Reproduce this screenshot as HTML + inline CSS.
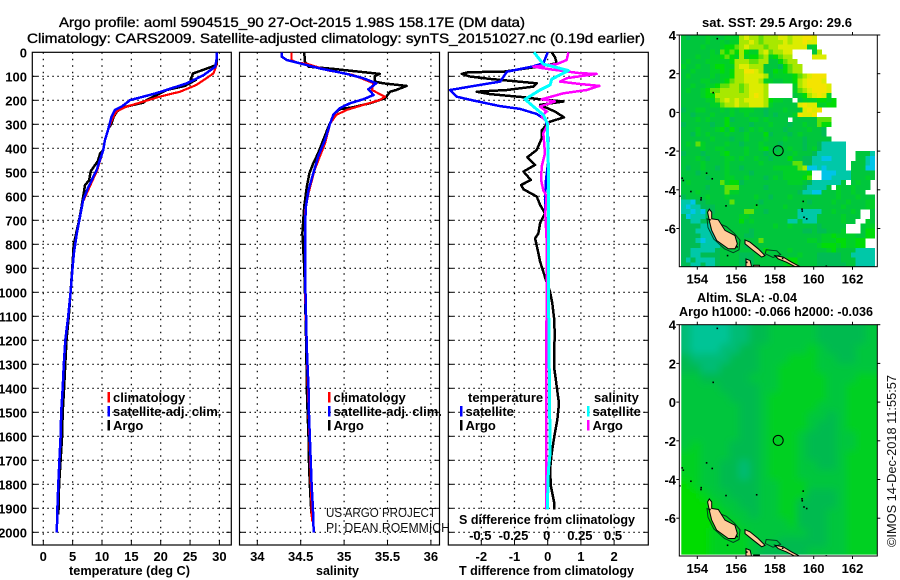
<!DOCTYPE html>
<html lang="en">
<head>
<meta charset="utf-8">
<title>Argo profile</title>
<style>
html,body{margin:0;padding:0;background:#fff;}
svg{display:block;}
text{font-family:"Liberation Sans",sans-serif;fill:#000;}
.b{font-weight:bold;font-size:13px;}
.t{font-size:14px;stroke:#000;stroke-width:.35px;}
.h{font-size:13px;fill:#111;}
</style>
</head>
<body>
<svg id="fig" xmlns="http://www.w3.org/2000/svg" width="900" height="580" viewBox="0 0 900 580">
<rect width="900" height="580" fill="#fff"/>
<text class="t" x="59" y="27" textLength="466" lengthAdjust="spacingAndGlyphs">Argo profile: aoml 5904515_90 27-Oct-2015 1.98S 158.17E (DM data)</text>
<text class="t" x="27" y="43" textLength="618" lengthAdjust="spacingAndGlyphs">Climatology: CARS2009. Satellite-adjusted climatology: synTS_20151027.nc (0.19d earlier)</text>
<text class="b" x="69" y="575" textLength="121" lengthAdjust="spacingAndGlyphs">temperature (deg C)</text>
<text class="b" x="316" y="575" textLength="43" lengthAdjust="spacingAndGlyphs">salinity</text>
<text class="b" x="459" y="575" textLength="175" lengthAdjust="spacingAndGlyphs">T difference from climatology</text>
<text class="b" x="459" y="524" textLength="176" lengthAdjust="spacingAndGlyphs">S difference from climatology</text>
<text class="h" x="326" y="517" textLength="110" lengthAdjust="spacingAndGlyphs">US ARGO PROJECT</text>
<text class="h" x="326" y="532" textLength="124" lengthAdjust="spacingAndGlyphs">PI: DEAN ROEMMICH</text>
<text class="b" x="702" y="27" textLength="150" lengthAdjust="spacingAndGlyphs">sat. SST: 29.5 Argo: 29.6</text>
<text class="b" x="697" y="302" textLength="100" lengthAdjust="spacingAndGlyphs">Altim. SLA: -0.04</text>
<text class="b" x="679" y="316" textLength="194" lengthAdjust="spacingAndGlyphs">Argo h1000: -0.066 h2000: -0.036</text>
<text class="h" transform="translate(896 547) rotate(-90)" x="0" y="0" textLength="172" lengthAdjust="spacingAndGlyphs">©IMOS 14-Dec-2018 11:55:57</text>
</svg>
<script>
// ---------- chart data ----------
const depthTicks = [0,100,200,300,400,500,600,700,800,900,1000,1100,1200,1300,1400,1500,1600,1700,1800,1900,2000];
const tempTicks = [0,5,10,15,20,25,30];
const salTicks = [34,34.5,35,35.5,36];
const salTickLabels = ['34','34.5','35','35.5','36'];
const tDiffTicks = [-2,-1,0,1,2];
const sDiffTicks = [-0.5,-0.25,0,0.25,0.5];
const sDiffTickLabels = ['-0.5','-0.25','0','0.25','0.5'];

const tempBlueDepth = [0,30,60,95,130,147,170,185,199,225,240,270,317,367,408,490,560,615,685,755,840,920,1000,1100,1200,1300,1400,1500,1600,1700,1800,1900,2000];
const tempBlue = [29.5,29.5,29.3,27.3,24.4,22.2,19.3,17,14.8,13.4,12.2,11.6,11.1,10.5,10.2,9.1,7.7,6.8,6.25,5.7,5.2,4.9,4.65,4.25,3.75,3.5,3.3,3.05,2.95,2.75,2.55,2.4,2.3];
const tempRedDepth = [0,53,88,136,164,185,206,227,248,275,317,367,408,490,560,615];
const tempRed = [29.5,29.5,29,26.1,23.3,19.8,17,14.1,12.4,11.8,11.1,10.5,10.2,9.2,7.9,6.9];
const tempArgoDepth = [0,53,78,88,115,115,140,157,178,199,210,229,248,269,297,317,367,408,420,453,495,533,554,600,644,700,742,800,870,1000,1100,1200,1300,1400,1500,1600,1700,1800,1900,1925];
const tempArgo = [29.5,29.5,26.7,25.5,25.1,26,24.1,21,19.3,17.6,17,13.6,12.5,12,11.6,11.1,10.5,10.2,9.7,9.3,8.1,7.8,7.1,6.8,6.5,6.1,5.7,5.2,5,4.65,4.35,3.95,3.75,3.55,3.3,3.2,2.95,2.7,2.6,2.55];

const salBlueDepth = [0,18,32,46,67,90,108,129,154,178,196,212,233,261,296,365,435,504,574,643,726,893,1004,1233,1400,1500,1600,1700,1800,1900,2000];
const salBlue = [34.28,34.28,34.34,34.49,34.72,35.03,35.22,35.37,35.28,35.34,35.22,35.07,34.95,34.875,34.84,34.78,34.7,34.645,34.59,34.56,34.55,34.55,34.555,34.57,34.59,34.595,34.605,34.615,34.625,34.64,34.65];
const salRedDepth = [0,32,43,48,76,94,129,157,185,199,215,240,261,296,379,490,587,660,1000,1955];
const salRed = [34.395,34.395,34.45,34.57,34.82,35.1,35.34,35.32,35.47,35.41,35.26,35.03,34.91,34.84,34.78,34.66,34.59,34.55,34.55,34.63];
const salArgoDepth = [0,39,60,69,78,90,99,122,129,140,157,164,192,212,229,237,254,282,310,365,421,462,504,560,643,754,893,1004,1233,1400,1500,1600,1700,1800,1900,1925];
const salArgo = [34.54,34.55,34.59,34.875,35.1,35.41,35.355,35.355,35.45,35.72,35.6,35.53,35.47,35.3,35.1,34.95,34.89,34.855,34.82,34.76,34.7,34.645,34.6,34.57,34.54,34.52,34.54,34.55,34.565,34.57,34.58,34.59,34.595,34.605,34.62,34.625];

const dtBlueDepth = [0,46,60,81,122,136,157,185,201,224,236,257,282,365,449,532,615,712,800,921,1100];
const dtBlue = [0,-0.13,-0.48,-1.23,-1.43,-2.04,-2.94,-2.74,-2.24,-1.44,-0.83,-0.33,-0.05,0.02,0.02,-0.05,-0.08,-0.06,0,-0.02,-0.02];
const dtArgoDepth = [0,20,46,60,81,83,90,101,111,129,143,157,164,174,187,196,205,219,247,271,289,324,358,407,437,469,497,532,553,571,601,636,671,712,754,775,837,872,907,949,998,1046,1116,1185,1255,1310,1359,1393,1463,1532,1601,1671,1740,1810,1879,1904];
const dtArgo = [0.12,0.22,0.27,-0.3,-1.33,-2.39,-2.59,-2.34,-1.74,-0.33,-0.43,-1.23,-2.14,-1.74,-0.73,-0.23,0.47,-0.23,0.22,0.49,0.07,-0.18,-0.18,-0.33,-0.61,-0.38,-0.73,-0.51,-0.8,-0.73,-0.33,-0.23,-0.08,-0.23,-0.28,-0.38,-0.28,-0.23,-0.15,-0.05,0.07,0.14,0.2,0.21,0.19,0.19,0.24,0.27,0.34,0.29,0.2,0.12,0.07,0.1,0.2,0.2];
const dsArgoDepth = [0,32,49,60,71,87,90,108,122,132,140,157,171,196,205,226,247,268,296,337,421,476,532,574,601,671,782,949,1904];
const dsArgo = [0.156,0.143,0.068,-0.108,0.018,0.244,0.369,0.143,0.093,0.244,0.389,0.294,0.118,-0.045,0.055,-0.058,-0.008,-0.045,0.005,-0.033,-0.02,-0.045,-0.05,-0.033,-0.008,-0.018,-0.008,-0.008,-0.012];
const dsSatDepth = [0,32,49,76,112,136,157,196,226,261,296,500,1000,1671,1740,1904];
const dsSat = [-0.103,-0.058,-0.033,0.156,0.03,0.018,-0.058,-0.171,-0.108,-0.033,-0.003,0.006,0.006,0.018,0.005,-0.003];

const mapLonTicks = [154,156,158,160,162];
const mapLatTicks = [4,2,0,-2,-4,-6];
const profileLon = 158.17;
const profileLat = -1.98;

// SST heat levels by row (north to south), '.' = missing; 0.25 degree cells
const sstLevelColors = {'1':'#00c4e8','2':'#00c8a8','3':'#00bc54','4':'#00c63c','5':'#00d028','6':'#00dc08','7':'#60e008','8':'#a8e800','9':'#dcec00','A':'#f4e400'};
const sstRows = [
"4344454445558988788899899AA9",
"4444454454558898788889899A99",
"4444544456678988878899999945",
"44444454767686558978899....48",
"44454455676585667856788....999",
"454445555568887788446788",
"5445445665589988844436788",
"4454445565688AA9844656788",
"454444545568899998455556789AAA",
"4444554456788999855445568 9AAA9".replace(' ',''),
"445445567788789998.....589AAAA9",
"454456778888789998.....5789AAA9",
"444456688888889A98.....45689A95",
"44444557898989999865544.45556656",
"4444445578898899985444449A995566",
"34455444545455544344454449A9A",
"443444544454454443434445A99A",
"4445454446344455454444.44444777",
"3444443446444434445444344544766",
"444544456464345454444344445443",
"443545444544454446344434544443",
"4444445444344544454445444344444",
"4547544445443444544434444344322222",
"4444544554444544564344544345322222",
"3444344456444544434444454443222222..4442",
"4445434445545445443444644332211222..4421",
"444454444544444454444447733222"+"2222.44421",
"434454434544344444455555781121"+"2222.44411",
"444344444544443444444555556..1"+"1122244444",
"444443444554454443454555567..1"+"1222244454",
"454444447566344444444455543222"+"2224.4544.",
"444443444777444443444444432222"+"4.5445444.",
"444544444755444444444444322114"+"44544544..",
"344445444544444544344454444444"+"4454445444",
"221334444474444434444444443444"+"4544544455",
"212233344444444544444544444444"+"4445444455",
"221213344444477443444444222224"+"4544454..4",
"312223444444554444444444222244"+"4445444..4",
"332233434444645444444422422244"+"444544..54",
"333322554444444444454454444434"+"4444...455",
"333222224444443444444444433433"+"4445...466",
"333322224444433444444444444445"+"5655554466",
"333212224454444474444444445545"+"55665566..",
"333322223444434444444444444456"+"66565566..",
"332222234444444446444454444444"+"5644442222",
"332233334444333444444444544433"+"3334422222",
"323222234444333444444566444433"+"3334442222",
"332232234444333444444566444433"+"3333442222"
];

// SLA heat levels by row (north to south); 0.5 degree cells
const slaLevelColors = {'1':'#00c496','2':'#00bc74','3':'#00ba50','4':'#00c63c','5':'#00d020','6':'#00dc04'};
const slaRows = [
"21111223344444333334",
"21111223344444333334",
"21112233444445433344",
"32222333444555443344",
"33223333445555444444",
"44333334445555544455",
"44443333445555544555",
"44444333455555544555",
"44444433455555444555",
"44444433455554434555",
"44444433455554334555",
"44444433455543334455",
"45444333455543334455",
"55444333455543334555",
"55443323455544334555",
"55443323455544444555",
"65443333445554444555",
"66544333445553334555",
"66654433445533334555",
"66665443445533344555",
"66665544444533344555",
"66655554444443344555",
"66655554443333344555",
"66655554333334444555"
];

// coastlines as [lon, lat]
const coastBougainville = [[154.62,-5.0],[154.74,-5.16],[154.74,-5.5],[155.08,-5.55],[155.43,-6.1],[155.94,-6.36],[156.06,-6.79],[155.94,-7.05],[155.6,-7.05],[155.0,-6.62],[154.74,-6.1],[154.62,-5.59],[154.53,-5.16]];
const coastChoiseul = [[156.46,-6.59],[156.72,-6.71],[157.14,-7.05],[157.49,-7.4],[157.32,-7.48],[156.89,-7.14],[156.46,-6.79]];
const coastIsabel = [[158.0,-7.4],[158.43,-7.48],[158.86,-7.74],[159.29,-7.97],[159.03,-7.97],[158.6,-7.74],[158.17,-7.57]];
const coastGeorgia = [[156.51,-7.57],[156.72,-7.66],[156.8,-7.97],[156.51,-7.97]];
const coastRanongga = [[156.9,-7.9],[157.2,-7.9],[157.2,-8.0],[156.9,-8.0]];
const shelfBougainville = [[154.5,-5.5],[154.55,-5.95],[154.85,-6.55],[155.4,-7.05],[155.85,-7.25],[156.15,-7.1],[156.2,-6.6],[155.9,-6.25],[155.5,-5.9]];
const shelfIsabel = [[157.5,-7.3],[157.55,-7.1],[158.1,-7.15],[158.3,-7.35],[157.9,-7.5]];
const smallIslands = [[155.03,3.81],[154.82,1.02],[154.48,-3.14],[154.77,-3.43],[153.28,-3.52],[153.22,-3.4],[153.67,-4.09],[154.19,-4.52],[154.2,-4.42],[155.48,-4.83],[157.06,-4.79],[159.46,-4.6],[159.41,-5.1],[159.4,-5.0],[159.64,-5.5],[159.5,-5.42],[155.56,-7.4],[153.1,-4.33],[154.65,-5.55],[156.05,-6.95],[158.4,-7.55],[156.55,-7.75],[160.65,-7.95]];

// ---------- axis functions ----------
const svgNS = 'http://www.w3.org/2000/svg';
const fig = document.getElementById('fig');
const yD = d => 52.3 + d * 0.24;
const xT = t => 43.3 + t * 5.87;
const xS = s => 257.3 + (s - 34) * 86.8;
const xDT = t => 547.7 + t * 33.2;
const xDS = s => 547.7 + s * 132.8;

function mk(tag, attrs, name, parent, interact) {
  const el = document.createElementNS(svgNS, tag);
  for (const k in attrs) el.setAttribute(k, attrs[k]);
  
  
  (parent || fig).appendChild(el);
  return el;
}
function txt(s, x, y, anchor, name, parent, cls) {
  const el = mk('text', {x: x, y: y, 'text-anchor': anchor, class: cls || 'b'}, name, parent);
  el.textContent = s;
  return el;
}
function series(xs, ds, xf, color, width, name, parent) {
  const pts = xs.map((v, i) => xf(v).toFixed(1) + ',' + yD(ds[i]).toFixed(1)).join(' ');
  return mk('polyline', {points: pts, fill: 'none', stroke: color, 'stroke-width': width, 'stroke-linejoin': 'round', 'shape-rendering': 'crispEdges'}, name, parent);
}
function panel(id, x0, x1, gridXs, xf) {
  const g = mk('g', {}, id + '-panel');
  const yTop = 52.3, yBot = 545;
  gridXs.forEach(v => {
    mk('line', {x1: xf(v), x2: xf(v), y1: yTop, y2: yBot, stroke: '#000', 'stroke-dasharray': '1.5 5', 'stroke-width': 1.2}, id + '-vertical-grid-line', g);
  });
  depthTicks.forEach(d => {
    if (d === 0) return;
    mk('line', {x1: x0, x2: x1, y1: yD(d), y2: yD(d), stroke: '#000', 'stroke-dasharray': '1.5 3.5', 'stroke-width': 1.2}, id + '-horizontal-grid-line', g);
    mk('line', {x1: x0, x2: x0 + 5, y1: yD(d), y2: yD(d), stroke: '#000', 'stroke-width': 1}, id + '-left-tick', g);
    mk('line', {x1: x1 - 5, x2: x1, y1: yD(d), y2: yD(d), stroke: '#000', 'stroke-width': 1}, id + '-right-tick', g);
  });
  gridXs.forEach(v => {
    mk('line', {x1: xf(v), x2: xf(v), y1: yBot - 5, y2: yBot, stroke: '#000', 'stroke-width': 1}, id + '-bottom-tick', g);
  });
  mk('rect', {x: x0, y: yTop, width: x1 - x0, height: yBot - yTop, fill: 'none', stroke: '#000', 'stroke-width': 1.2}, id + '-frame', g);
  return g;
}

// ---------- profile panels ----------
const gTemp = panel('temperature', 32.3, 231.3, tempTicks, xT);
const gSal = panel('salinity', 239.5, 439.5, salTicks, xS);
const gDiff = panel('difference', 448.3, 648.3, tDiffTicks, xDT);

depthTicks.forEach(d => txt(String(d), 27, yD(d) + 5, 'end', 'depth-tick-label'));
tempTicks.forEach(t => txt(String(t), xT(t), 561, 'middle', 'temperature-tick-label'));
salTicks.forEach((s, i) => txt(salTickLabels[i], xS(s), 561, 'middle', 'salinity-tick-label'));
tDiffTicks.forEach(t => txt(String(t), xDT(t), 561, 'middle', 't-difference-tick-label'));
sDiffTicks.forEach((s, i) => txt(sDiffTickLabels[i], xDS(s) - 1, 540, 'middle', 's-difference-tick-label'));

series(tempArgo, tempArgoDepth, xT, '#000', 2.5, 'temperature-argo-line', gTemp);
series(tempRed, tempRedDepth, xT, '#f00', 2.2, 'temperature-climatology-line', gTemp);
series(tempBlue, tempBlueDepth, xT, '#00f', 2.5, 'temperature-satellite-line', gTemp);

series(salArgo, salArgoDepth, xS, '#000', 2.5, 'salinity-argo-line', gSal);
series(salRed, salRedDepth, xS, '#f00', 2.2, 'salinity-climatology-line', gSal);
series(salBlue, salBlueDepth, xS, '#00f', 2.5, 'salinity-satellite-line', gSal);

series(dtArgo, dtArgoDepth, xDT, '#000', 2.5, 't-difference-argo-line', gDiff);
series(dtBlue, dtBlueDepth, xDT, '#00f', 2.5, 't-difference-satellite-line', gDiff);
series(dsArgo, dsArgoDepth, xDS, '#f0f', 2.5, 's-difference-argo-line', gDiff);
series(dsSat, dsSatDepth, xDS, '#0ff', 3, 's-difference-satellite-line', gDiff);

// ---------- legends ----------
function legendEntry(x, y, color, label, name) {
  const g = mk('g', {}, name);
  mk('rect', {x: x, y: y - 10, width: 2.5, height: 10.5, fill: color}, name + '-swatch', g);
  txt(label, x + 5.5, y, 'start', name + '-label', g);
}
legendEntry(107.5, 402, '#f00', 'climatology', 'temp-legend-climatology');
legendEntry(107.5, 416, '#00f', 'satellite-adj. clim.', 'temp-legend-satellite');
legendEntry(107.5, 430, '#000', 'Argo', 'temp-legend-argo');
legendEntry(328, 402, '#f00', 'climatology', 'sal-legend-climatology');
legendEntry(328, 416, '#00f', 'satellite-adj. clim.', 'sal-legend-satellite');
legendEntry(328, 430, '#000', 'Argo', 'sal-legend-argo');
txt('temperature', 468, 402, 'start', 'diff-legend-temperature-heading');
legendEntry(460, 416, '#00f', 'satellite', 'diff-legend-t-satellite');
legendEntry(460, 430, '#000', 'Argo', 'diff-legend-t-argo');
txt('salinity', 594, 402, 'start', 'diff-legend-salinity-heading');
legendEntry(587, 416, '#0ff', 'satellite', 'diff-legend-s-satellite');
legendEntry(587, 430, '#f0f', 'Argo', 'diff-legend-s-argo');

// ---------- maps ----------
const mapLeft = 679.3, mapRight = 877.3;
function drawMap(id, yTop, yBot, drawField) {
  const xL = lon => 697.3 + (lon - 154) * 19.4;
  const yL = lat => yTop + (4 - lat) * 19.35;
  const g = mk('g', {}, id + '-map');
  const clipId = id + '-clip';
  const defs = mk('defs', {}, id + '-defs', g);
  const cp = mk('clipPath', {id: clipId}, id + '-clip-path', defs);
  mk('rect', {x: mapLeft, y: yTop, width: mapRight - mapLeft, height: yBot - yTop}, id + '-clip-rect', cp);
  const inner = mk('g', {'clip-path': 'url(#' + clipId + ')'}, id + '-map-area', g);
  drawField(inner, xL, yL);
  const pathOf = arr => arr.map(p => xL(p[0]).toFixed(1) + ',' + yL(p[1]).toFixed(1)).join(' ');
  mk('polygon', {points: pathOf(shelfBougainville), fill: 'none', stroke: '#004020', 'stroke-width': 1}, id + '-shelf-bougainville', inner);
  mk('polygon', {points: pathOf(shelfIsabel), fill: 'none', stroke: '#004020', 'stroke-width': 1}, id + '-shelf-isabel', inner);
  [[coastBougainville, 'bougainville'], [coastChoiseul, 'choiseul'], [coastIsabel, 'isabel'], [coastGeorgia, 'georgia'], [coastRanongga, 'ranongga']].forEach(c => {
    mk('polygon', {points: pathOf(c[0]), fill: '#ffcc99', stroke: '#000', 'stroke-width': 1}, id + '-island-' + c[1], inner);
  });
  smallIslands.forEach(p => {
    mk('rect', {x: xL(p[0]) - 0.8, y: yL(p[1]) - 0.8, width: 1.6, height: 1.6, fill: '#000'}, id + '-small-island', inner);
  });
  mk('circle', {cx: xL(profileLon), cy: yL(profileLat), r: 5, fill: 'none', stroke: '#000', 'stroke-width': 1}, id + '-profile-marker', g);
  mk('rect', {x: mapLeft, y: yTop, width: mapRight - mapLeft, height: yBot - yTop, fill: 'none', stroke: '#000', 'stroke-width': 1}, id + '-frame', g);
  mapLonTicks.forEach(lon => {
    mk('line', {x1: xL(lon), x2: xL(lon), y1: yBot, y2: yBot + 3, stroke: '#000'}, id + '-bottom-tick', g);
    mk('line', {x1: xL(lon), x2: xL(lon), y1: yTop - 3, y2: yTop, stroke: '#000'}, id + '-top-tick', g);
    txt(String(lon), xL(lon), yBot + 17, 'middle', id + '-lon-label', g);
  });
  mapLatTicks.forEach(lat => {
    mk('line', {x1: mapLeft - 3, x2: mapLeft, y1: yL(lat), y2: yL(lat), stroke: '#000'}, id + '-left-tick', g);
    mk('line', {x1: mapRight, x2: mapRight + 3, y1: yL(lat), y2: yL(lat), stroke: '#000'}, id + '-right-tick', g);
    txt(String(lat), 676, yL(lat) + 5, 'end', id + '-lat-label', g);
  });
}

drawMap('sst', 35, 266.7, (g, xL, yL) => {
  const x0 = 154 - (697.3 - 681) / 19.4;
  sstRows.forEach((row, r) => {
    for (let c = 0; c < row.length; c++) {
      const color = sstLevelColors[row[c]];
      if (!color) continue;
      const lon = x0 + c * 0.25;
      const lat = 4 - r * 0.25;
      mk('rect', {x: xL(lon).toFixed(2), y: yL(lat).toFixed(2), width: 4.95, height: 4.95, fill: color, 'shape-rendering': 'crispEdges'}, 'sst-cell', g);
    }
  });
});

drawMap('sla', 324.7, 556, (g, xL, yL) => {
  const defs = mk('defs', {}, 'sla-blur-defs', g);
  const f = mk('filter', {id: 'slaBlur', x: '-10%', y: '-10%', width: '120%', height: '120%'}, 'sla-blur-filter', defs);
  mk('feGaussianBlur', {stdDeviation: 4}, 'sla-blur', f);
  const field = mk('g', {filter: 'url(#slaBlur)'}, 'sla-field', g);
  const x0 = 154 - (697.3 - 681) / 19.4;
  slaRows.forEach((row, r) => {
    for (let c = 0; c < row.length; c++) {
      const lon = x0 + c * 0.5;
      const lat = 4 - r * 0.5;
      const isEdgeL = c === 0, isEdgeT = r === 0, isEdgeR = c === row.length - 1, isEdgeB = r === slaRows.length - 1;
      const pad = 14;
      const xx = xL(lon) - (isEdgeL ? pad : 0);
      const yy = yL(lat) - (isEdgeT ? pad : 0);
      mk('rect', {x: xx.toFixed(2), y: yy.toFixed(2), width: 10.4 + (isEdgeL ? pad : 0) + (isEdgeR ? pad : 0), height: 10.4 + (isEdgeT ? pad : 0) + (isEdgeB ? pad : 0), fill: slaLevelColors[row[c]]}, 'sla-cell', field);
    }
  });
  mk('rect', {x: 679.3, y: 324.7, width: 2, height: 232, fill: '#fff'}, 'sla-left-gap', g);
  mk('rect', {x: 679.3, y: 554.6, width: 198, height: 2, fill: '#fff'}, 'sla-bottom-gap', g);
});
</script>
</body>
</html>
